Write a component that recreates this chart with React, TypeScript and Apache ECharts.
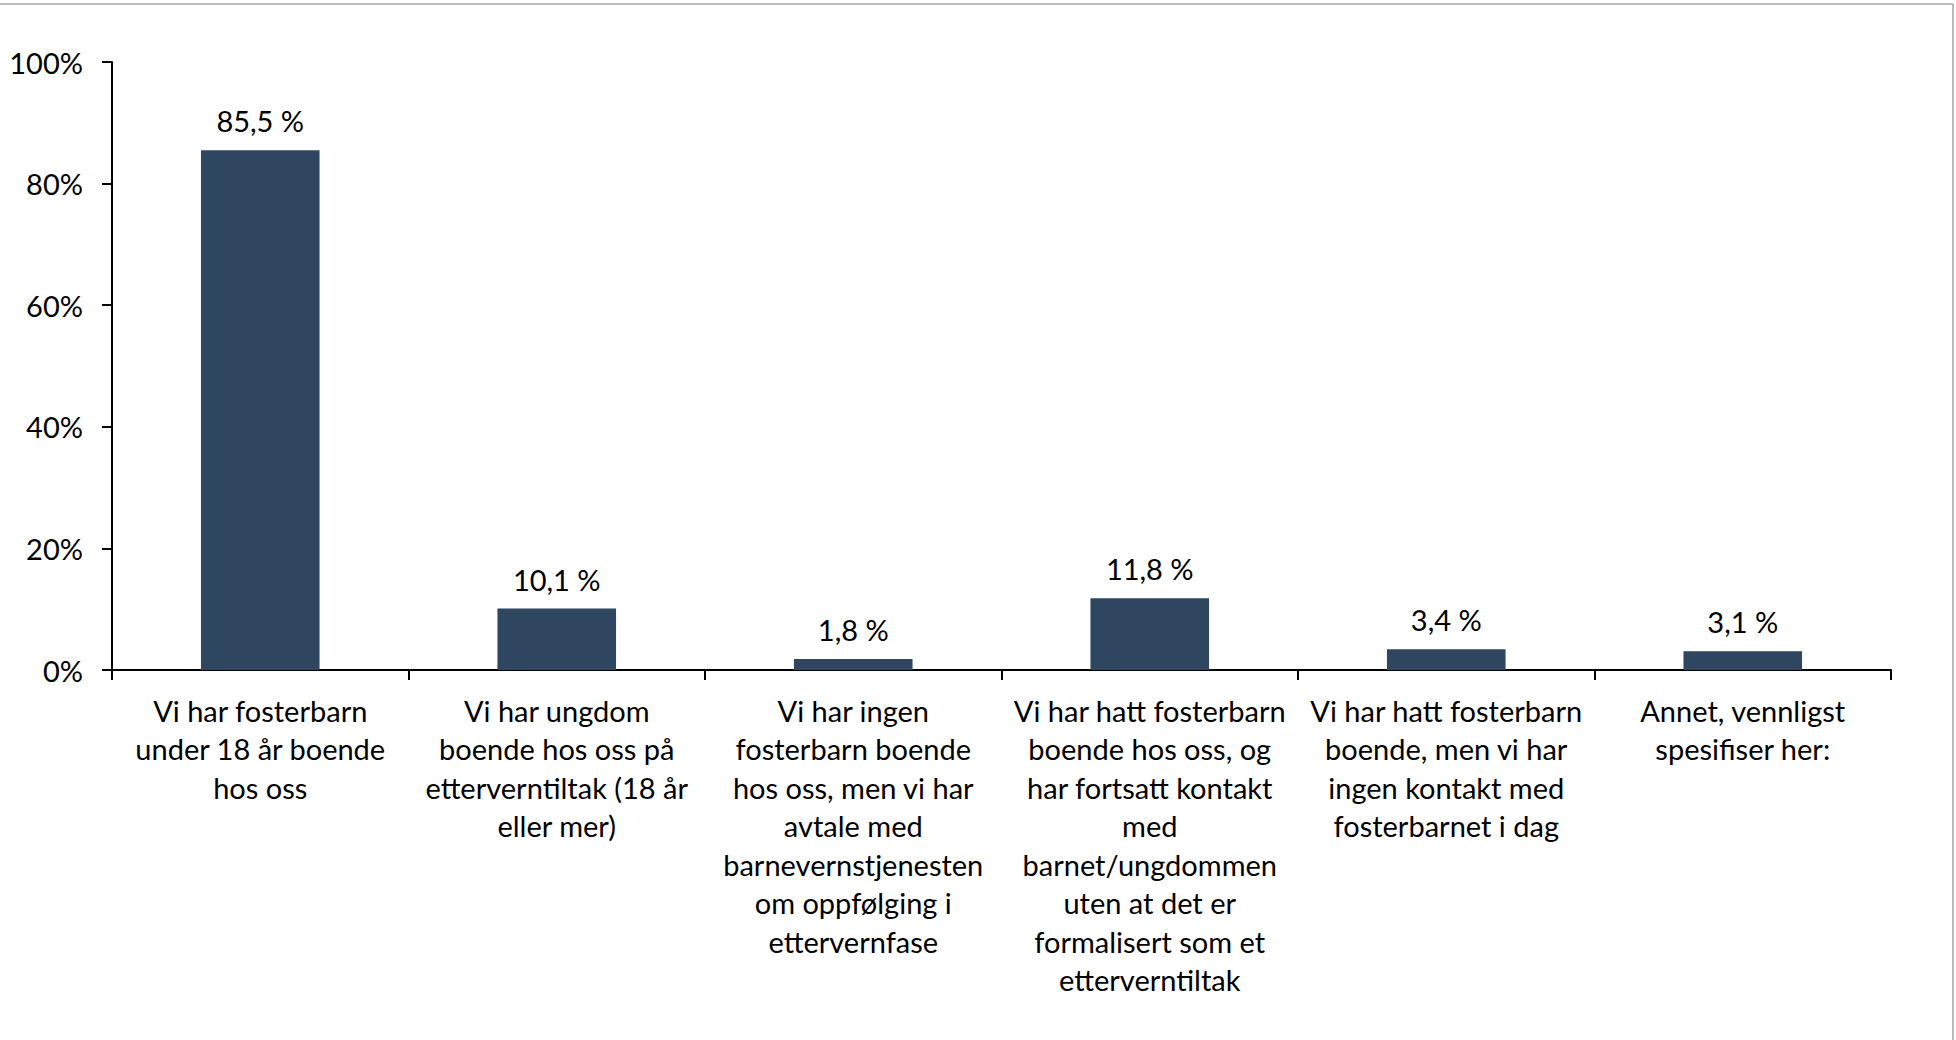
import React, { useEffect, useRef } from "react";
import * as echarts from "echarts";

const categories: string[] = [
  "Vi har fosterbarn\nunder 18 år boende\nhos oss",
  "Vi har ungdom\nboende hos oss på\netterverntiltak (18 år\neller mer)",
  "Vi har ingen\nfosterbarn boende\nhos oss, men vi har\navtale med\nbarnevernstjenesten\nom oppfølging i\nettervernfase",
  "Vi har hatt fosterbarn\nboende hos oss, og\nhar fortsatt kontakt\nmed\nbarnet/ungdommen\nuten at det er\nformalisert som et\netterverntiltak",
  "Vi har hatt fosterbarn\nboende, men vi har\ningen kontakt med\nfosterbarnet i dag",
  "Annet, vennligst\nspesifiser her:",
];

const values: number[] = [85.5, 10.1, 1.8, 11.8, 3.4, 3.1];

const yMin = 0;
const yMax = 100;
const yInterval = 20;

const FONT = "Lato, 'Noto Sans', sans-serif";

export default function App() {
  const ref = useRef<HTMLDivElement>(null);

  useEffect(() => {
    if (!ref.current) return;
    const chart = echarts.init(ref.current, undefined, { renderer: "svg" });
    chart.setOption({
      animation: false,
      backgroundColor: "#ffffff",
      textStyle: { fontFamily: FONT },
      grid: { left: 112, right: 65, top: 62, bottom: 370, containLabel: false },
      graphic: [
        {
          type: "line",
          shape: { x1: 0, y1: 4, x2: 1953, y2: 4 },
          style: { stroke: "#a6a6a6", lineWidth: 1.5 },
          silent: true,
        },
        {
          type: "line",
          shape: { x1: 1953, y1: 4, x2: 1953, y2: 1040 },
          style: { stroke: "#a6a6a6", lineWidth: 1.5 },
          silent: true,
        },
      ],
      xAxis: {
        type: "category",
        data: categories,
        axisLine: { show: true, lineStyle: { color: "#000", width: 2 } },
        axisTick: { show: true, alignWithLabel: false, length: 10, lineStyle: { color: "#000", width: 2 } },
        axisLabel: {
          interval: 0,
          color: "#000",
          fontFamily: FONT,
          fontSize: 29,
          lineHeight: 38.5,
          margin: 21,
          align: "center",
        },
        splitLine: { show: false },
      },
      yAxis: {
        type: "value",
        min: yMin,
        max: yMax,
        interval: yInterval,
        axisLine: { show: true, lineStyle: { color: "#000", width: 2 } },
        axisTick: { show: true, length: 10, lineStyle: { color: "#000", width: 2 } },
        axisLabel: {
          color: "#000",
          fontFamily: FONT,
          fontSize: 29,
          margin: 29,
          formatter: "{value}%",
        },
        splitLine: { show: false },
      },
      series: [
        {
          type: "bar",
          data: values,
          barWidth: "40%",
          itemStyle: { color: "#2e465f" },
          label: {
            show: true,
            position: "top",
            distance: 15,
            color: "#000",
            fontFamily: FONT,
            fontSize: 29,
            formatter: (p: any) => p.value.toFixed(1).replace(".", ",") + " %",
          },
        },
      ],
    });
    return () => chart.dispose();
  }, []);

  return (
    <div
      ref={ref}
      style={{ position: "fixed", left: 0, top: 0, width: 1956, height: 1040 }}
    />
  );
}
